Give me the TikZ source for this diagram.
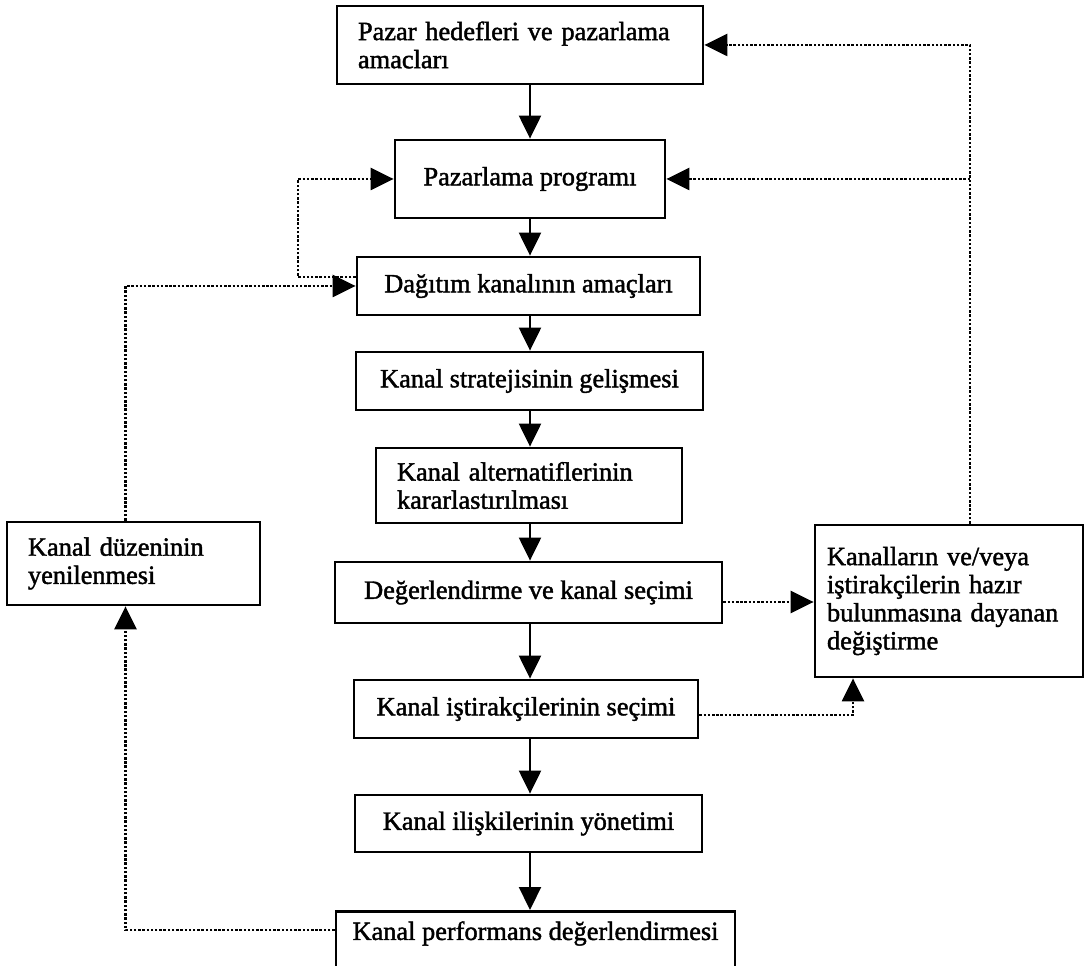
\documentclass[tikz,border=0pt]{standalone}
\usepackage{fontspec}
\setmainfont{Liberation Serif}
\newfontfamily\scanfont{Liberation Serif}[FakeBold=1.6]
\usepackage{tikz}
\usetikzlibrary{arrows.meta, positioning, calc}

\begin{document}
\begin{tikzpicture}[font=\scanfont\fontsize{15}{16}\selectfont,
        box/.style={draw=black, line width=1.6pt, align=center,
                    inner sep=0.2cm},
        boxl/.style={box, align=left, inner xsep=0.42cm},
        arr/.style={line width=1.3pt, -{Triangle[length=0.46cm, width=0.44cm]}},
        fb/.style={line width=1.4pt, densely dotted,
                   -{Triangle[length=0.46cm, width=0.44cm]}},
      ]
        \useasboundingbox (0,0) rectangle (21.84,-19.32);

        \node[boxl, text width=6.48cm, minimum height=1.56cm] (goal) at (10.40,-0.90)
            {Pazar hedefleri ve pazarlama\\amacları};
        \node[box, minimum width=5.40cm, minimum height=1.56cm] (prog) at (10.60,-3.58)
            {Pazarlama programı};
        \node[box, minimum width=6.86cm, minimum height=1.16cm] (amac) at (10.57,-5.72)
            {Dağıtım kanalının amaçları};
        \node[box, minimum width=6.94cm, minimum height=1.16cm] (strat) at (10.59,-7.62)
            {Kanal stratejisinin gelişmesi};
        \node[boxl, text width=5.28cm, minimum height=1.50cm] (alt) at (10.58,-9.71)
            {Kanal alternatiflerinin\\kararlastırılması};
        \node[box, minimum width=7.74cm, minimum height=1.22cm] (secim) at (10.57,-11.85)
            {Değerlendirme ve kanal seçimi};
        \node[box, minimum width=6.88cm, minimum height=1.16cm] (istirak) at (10.52,-14.18)
            {Kanal iştirakçilerinin seçimi};
        \node[box, minimum width=6.94cm, minimum height=1.14cm] (iliski) at (10.57,-16.47)
            {Kanal ilişkilerinin yönetimi};
        \node[box, anchor=north, minimum width=7.98cm, text depth=0.85cm] (perf) at (10.71,-18.20)
            {Kanal performans değerlendirmesi};
        \node[boxl, text width=4.22cm, minimum height=1.66cm] (yenile) at (2.67,-11.27)
            {Kanal düzeninin\\yenilenmesi};
        \node[boxl, inner xsep=0.24cm, text width=4.88cm, minimum height=3.04cm] (degis) at (18.98,-12.02)
            {Kanalların ve/veya\\iştirakçilerin hazır\\bulunmasına dayanan\\değiştirme};

        \coordinate (spine) at (10.60,0);
        \coordinate (loopL) at (5.96,0);
        \coordinate (degisN) at ([xshift=0.42cm]degis.north);

        \foreach \a/\b in {goal/prog, prog/amac, amac/strat, strat/alt,
                           alt/secim, secim/istirak, istirak/iliski, iliski/perf}
            \draw[arr] (\a.south -| spine) -- (\b.north -| spine);

        \draw[fb] ([yshift=0.18cm]amac.west) -- ([yshift=0.18cm]amac.west -| loopL)
            |- (prog.west);
        \draw[fb] ([xshift=-0.16cm]yenile.north) |- (amac.west);
        \draw[fb] ([yshift=-0.40cm]perf.north west) -| ([xshift=-0.16cm]yenile.south);
        \draw[fb] (degisN) |- (goal.east);
        \draw[fb] (prog.east -| degisN) -- (prog.east);
        \draw[fb] ([yshift=-0.19cm]secim.east) -- ([yshift=-0.19cm]secim.east -| degis.west);
        \draw[fb] ([yshift=-0.12cm]istirak.east) -| ([xshift=-1.92cm]degis.south);
      \end{tikzpicture}
\end{document}
